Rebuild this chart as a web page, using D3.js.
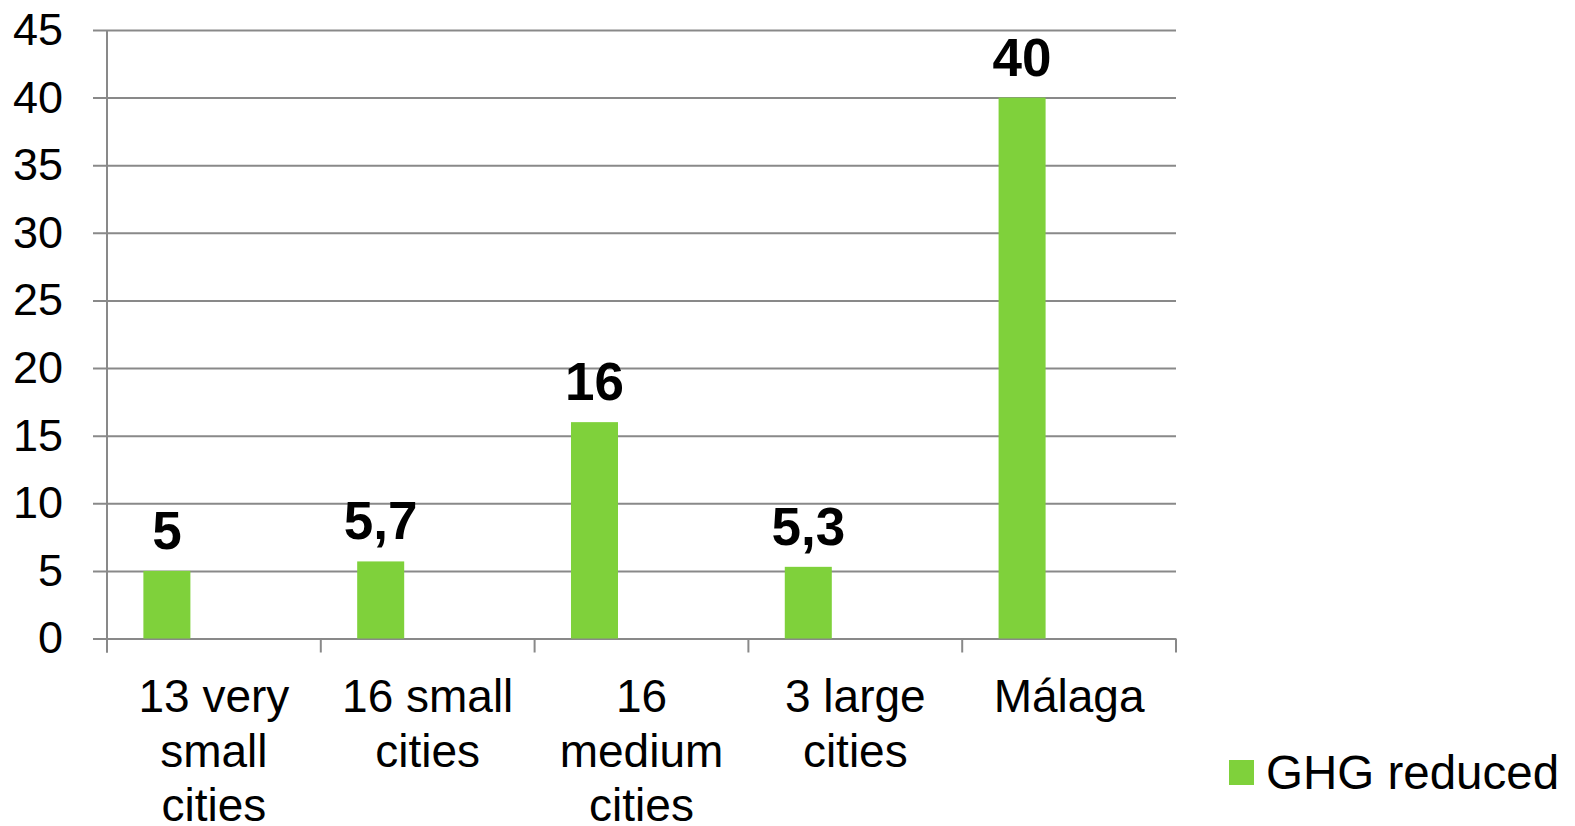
<!DOCTYPE html>
<html>
<head>
<meta charset="utf-8">
<script src="https://cdn.jsdelivr.net/npm/d3@7"></script>
<style>
  html, body { margin: 0; padding: 0; background: #fff; }
  svg { display: block; font-family: "Liberation Sans", Arial, sans-serif; }
</style>
</head>
<body>
<svg id="chart" width="1575" height="826"></svg>
<script>
// ---- data ----
const categories = ["13 very small cities", "16 small cities", "16 medium cities", "3 large cities", "Málaga"];
const categoryLines = [["13 very", "small", "cities"], ["16 small", "cities"], ["16", "medium", "cities"], ["3 large", "cities"], ["Málaga"]];
const seriesName = "GHG reduced";
const ghgValues = [5, 5.7, 16, 5.3, 40];
const valueLabels = ["5", "5,7", "16", "5,3", "40"];
const yTicks = [0, 5, 10, 15, 20, 25, 30, 35, 40, 45];
const seriesSlots = [0, 1, 2]; // chart reserves three series slots per category, only the first is used

// ---- layout ----
const svg = d3.select("#chart");
const plotLeft = 107, plotRight = 1176, plotTop = 30, plotBottom = 638.5;
const gridColor = "#898989";
const barColor = "#7FD13B";

const y = d3.scaleLinear().domain([0, 45]).range([plotBottom, plotTop]);
const x0 = d3.scaleBand().domain(categories).range([plotLeft, plotRight]).padding(0);
const x1 = d3.scaleBand().domain(seriesSlots).range([0, x0.bandwidth()]).paddingInner(0).paddingOuter(0.774);

// y gridlines + labels
const yAxis = d3.axisLeft(y).tickValues(yTicks).tickSizeInner(-(plotRight - 93)).tickSizeOuter(0).tickPadding(30);
const gy = svg.append("g").attr("transform", "translate(93,0)").call(yAxis);
gy.select(".domain").remove();
gy.selectAll(".tick line").attr("stroke", gridColor).attr("stroke-width", 2);
gy.selectAll(".tick text").attr("font-size", 45).attr("fill", "#000")
  .attr("font-family", '"Liberation Sans", Arial, sans-serif');

// vertical axis line
svg.append("line").attr("x1", plotLeft).attr("x2", plotLeft)
  .attr("y1", plotTop).attr("y2", plotBottom + 14)
  .attr("stroke", gridColor).attr("stroke-width", 2);

// x axis boundary ticks
const boundaries = categories.map(c => x0(c)).concat([x0(categories[categories.length - 1]) + x0.bandwidth()]);
svg.append("g").selectAll("line").data(boundaries).join("line")
  .attr("x1", d => d).attr("x2", d => d)
  .attr("y1", plotBottom).attr("y2", plotBottom + 14)
  .attr("stroke", gridColor).attr("stroke-width", 2);

// bars
svg.append("g").selectAll("rect").data(ghgValues).join("rect")
  .attr("x", (d, i) => x0(categories[i]) + x1(0))
  .attr("width", x1.bandwidth())
  .attr("y", d => y(d))
  .attr("height", d => y(0) - y(d))
  .attr("fill", barColor);

// value labels
svg.append("g").selectAll("text").data(ghgValues).join("text")
  .attr("x", (d, i) => x0(categories[i]) + x1(0) + x1.bandwidth() / 2)
  .attr("y", d => y(d) - 22)
  .attr("text-anchor", "middle")
  .attr("font-size", 53).attr("font-weight", "bold").attr("fill", "#000")
  .text((d, i) => valueLabels[i]);

// category labels
const catG = svg.append("g");
categories.forEach((c, i) => {
  const t = catG.append("text")
    .attr("x", x0(c) + x0.bandwidth() / 2)
    .attr("y", 712)
    .attr("text-anchor", "middle")
    .attr("font-size", 46).attr("fill", "#000");
  categoryLines[i].forEach((line, j) => {
    t.append("tspan").attr("x", x0(c) + x0.bandwidth() / 2).attr("dy", j === 0 ? 0 : 54.5).text(line);
  });
});

// legend
const lg = svg.append("g");
lg.append("rect").attr("x", 1229).attr("y", 760).attr("width", 25).attr("height", 25).attr("fill", barColor);
lg.append("text").attr("x", 1266).attr("y", 789).attr("font-size", 47.5).attr("fill", "#000").text(seriesName);
</script>
</body>
</html>
